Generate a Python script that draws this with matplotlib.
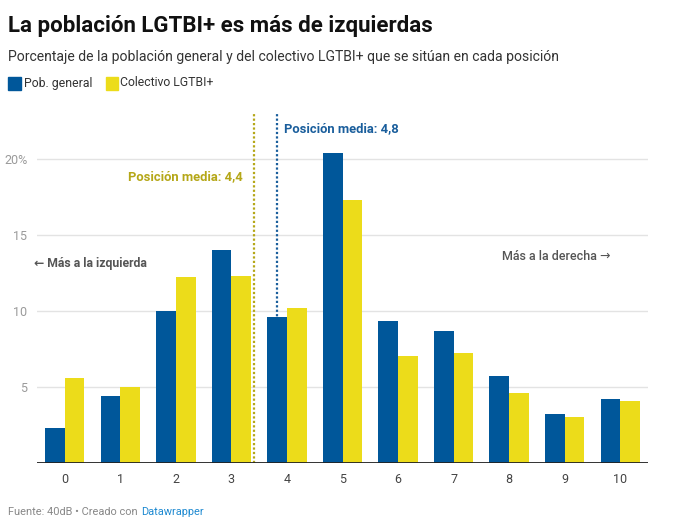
import matplotlib

matplotlib.use("Agg")
import matplotlib.pyplot as plt
import numpy as np
from matplotlib.patches import Rectangle

plt.rcParams["font.family"] = ["Roboto", "DejaVu Sans"]

# data
POSITIONS = [0, 1, 2, 3, 4, 5, 6, 7, 8, 9, 10]
POB_GENERAL = [2.3, 4.4, 10.0, 14.0, 9.6, 20.4, 9.3, 8.7, 5.7, 3.2, 4.2]
LGTBI = [5.6, 5.0, 12.2, 12.3, 10.2, 17.3, 7.0, 7.2, 4.6, 3.0, 4.1]
SERIES_NAMES = ["Pob. general", "Colectivo LGTBI+"]
Y_TICKS = [5, 10, 15, 20]
Y_TICK_LABELS = ["5", "10", "15", "20%"]
# where datawrapper drew the mean markers (category axis units)
MEAN_LGTBI_X = 3.4
MEAN_GENERAL_X = 3.82

BLUE = "#00579a"
YELLOW = "#ecdc1a"
OLIVE = "#b5a718"
LINE_BLUE = "#1a5e9c"
GRID = "#e3e3e3"

W, H = 676, 521
fig = plt.figure(figsize=(W / 100, H / 100), dpi=100)
ax = fig.add_axes([37 / W, 1 - 463 / H, (648 - 37) / W, (463 - 113) / H])

x = np.array(POSITIONS)
bw = 0.355
ax.bar(x - bw / 2, POB_GENERAL, width=bw, color=BLUE, zorder=3)
ax.bar(x + bw / 2, LGTBI, width=bw, color=YELLOW, zorder=3)

ax.set_xlim(-0.5, 10.5)
ax.set_ylim(0, 23)

for t in Y_TICKS:
    ax.axhline(t, color=GRID, lw=1, zorder=1)
ax.axhline(0, color="#222222", lw=1.3, zorder=4)

ax.set_yticks(Y_TICKS)
ax.set_yticklabels(Y_TICK_LABELS, color="#9a9a9a", fontsize=9)
ax.set_xticks(POSITIONS)
ax.set_xticklabels([str(p) for p in POSITIONS], color="#444444", fontsize=9)
ax.tick_params(axis="both", length=0, pad=7)
for s in ax.spines.values():
    s.set_visible(False)

# mean position markers
ax.plot([MEAN_LGTBI_X, MEAN_LGTBI_X], [0, 23], color=OLIVE, lw=1.6,
        ls=(0, (1, 1)), zorder=2, clip_on=False)
ax.plot([MEAN_GENERAL_X, MEAN_GENERAL_X], [0, 23], color=LINE_BLUE, lw=1.6,
        ls=(0, (1, 1)), zorder=2, clip_on=False)
ax.text(MEAN_LGTBI_X - 0.2, 18.8, "Posición media: 4,4", color=OLIVE,
        fontsize=9.4, fontweight="bold", ha="right", va="center")
ax.text(MEAN_GENERAL_X + 0.13, 21.95, "Posición media: 4,8", color=LINE_BLUE,
        fontsize=9.4, fontweight="bold", ha="left", va="center")
ax.text(-0.55, 13.1, "← Más a la izquierda", color="#555555",
        fontsize=8.8, fontweight="bold", ha="left", va="center")
ax.text(9.83, 13.6, "Más a la derecha →", color="#555555",
        fontsize=9, fontweight="medium", ha="right", va="center")

# header
fig.text(8 / W, 1 - 26 / H, "La población LGTBI+ es más de izquierdas",
         fontsize=16, fontweight="bold", color="#111111", va="center")
fig.text(8 / W, 1 - 57 / H,
         "Porcentaje de la población general y del colectivo LGTBI+ que se sitúan en cada posición",
         fontsize=10.1, color="#333333", va="center")

# legend
fig.add_artist(Rectangle((8 / W, 1 - 90 / H), 13 / W, 13 / H,
                         color=BLUE, transform=fig.transFigure))
fig.text(24 / W, 1 - 83 / H, SERIES_NAMES[0], fontsize=8.8,
         color="#333333", va="center")
fig.add_artist(Rectangle((106 / W, 1 - 90 / H), 12 / W, 13 / H,
                         color=YELLOW, transform=fig.transFigure))
fig.text(120 / W, 1 - 83 / H, SERIES_NAMES[1], fontsize=8.8,
         color="#333333", va="center")

# footer
fig.text(8 / W, 1 - 512 / H, "Fuente: 40dB • Creado con", fontsize=7.9,
         color="#888888", va="center")
fig.text(141 / W, 1 - 512 / H, "Datawrapper", fontsize=7.9,
         color="#1f8ad1", va="center")

fig.savefig("out.png", dpi=100)
